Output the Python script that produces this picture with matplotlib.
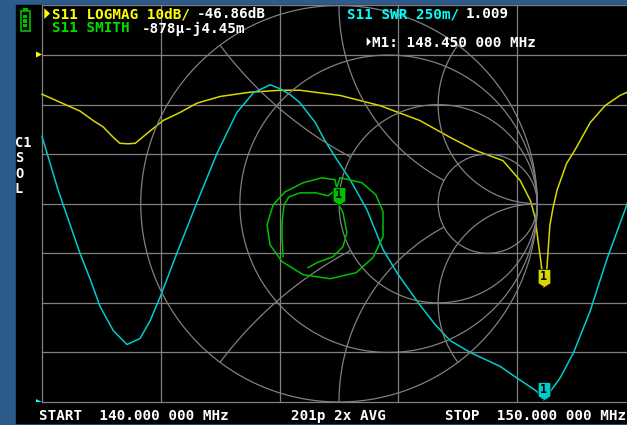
import numpy as np
import matplotlib.pyplot as plt
from matplotlib.path import Path
from matplotlib.patches import Polygon, Rectangle

W, H = 627, 425

# S11 LOGMAG trace (yellow), dB
logmag_freq = [140.00, 140.30, 140.64, 140.86, 141.03, 141.20, 141.31, 141.45, 141.57,
               141.77, 142.04, 142.32, 142.61, 143.00, 143.50, 144.01, 144.34, 145.02,
               145.69, 146.36, 146.87, 147.29, 147.76, 148.05, 148.22, 148.30, 148.35,
               148.40, 148.45, 148.50, 148.55, 148.60, 148.67, 148.83, 148.97, 149.23,
               149.48, 149.73, 150.00]
logmag_db = [-7.9, -9.5, -11.3, -13.2, -14.5, -16.6, -17.8, -17.9, -17.8,
             -15.8, -13.2, -11.6, -9.7, -8.35, -7.5, -7.1, -7.1, -8.15,
             -10.2, -13.2, -16.6, -19.2, -21.3, -25.3, -29.3, -32.7, -37.4,
             -41.8, -46.86, -43.0, -34.4, -31.0, -27.3, -21.9, -19.2, -13.6,
             -10.2, -8.15, -6.7]

# S11 SWR trace (cyan)
swr_freq = [140.00, 140.27, 140.64, 140.81, 140.98, 141.20, 141.43, 141.65, 141.82,
            141.99, 142.27, 142.60, 142.94, 143.28, 143.56, 143.84, 144.01, 144.18,
            144.34, 144.60, 144.76, 144.97, 145.19, 145.47, 145.74, 145.98, 146.36,
            146.62, 146.87, 147.21, 147.71, 148.05, 148.30, 148.40, 148.45, 148.55,
            148.72, 148.95, 149.23, 149.51, 149.84, 150.00]
swr_val = [2.34, 2.07, 1.75, 1.62, 1.48, 1.36, 1.29, 1.32, 1.41,
           1.53, 1.75, 2.00, 2.25, 2.46, 2.56, 2.60, 2.58, 2.55,
           2.51, 2.41, 2.32, 2.22, 2.12, 1.97, 1.77, 1.65, 1.49,
           1.39, 1.31, 1.25, 1.18, 1.11, 1.06, 1.035, 1.009, 1.05,
           1.12, 1.25, 1.46, 1.72, 1.99, 2.12]

# S11 SMITH trace (green), reflection coefficient
smith_re = [-0.282, -0.287, -0.287, -0.277, -0.252, -0.196, -0.116, -0.055, -0.015,
            0.005, 0.116, 0.186, 0.222, 0.222, 0.171, 0.086, -0.045, -0.181,
            -0.287, -0.348, -0.363, -0.332, -0.272, -0.181, -0.086, -0.020, -0.005,
            -0.0009, 0.020, 0.040, 0.020, -0.030, -0.111, -0.156]
smith_im = [-0.267, -0.181, -0.091, -0.005, 0.035, 0.055, 0.055, 0.040, 0.071,
            0.131, 0.106, 0.045, -0.040, -0.166, -0.272, -0.348, -0.378, -0.358,
            -0.292, -0.207, -0.106, -0.005, 0.060, 0.106, 0.131, 0.121, 0.045,
            -0.0045, -0.045, -0.146, -0.217, -0.267, -0.297, -0.322]

marker_freq = 148.45
marker_db = -46.86
marker_swr = 1.009
marker_gamma = (-0.000878, -0.00445)

YEL_T, YEL = '#ffff00', '#d8d800'
CYA_T, CYA = '#00ffff', '#00cccc'
GRN_T, GRN = '#00e000', '#00c000'
GRID = '#808080'


def fx(x):
    return x / W


def fy(y):
    return 1 - y / H


fig = plt.figure(figsize=(W / 100, H / 100), dpi=100)
fig.patch.set_facecolor('#2d5b8c')
fig.add_artist(Rectangle((fx(16), fy(423)), fx(627) - fx(16), fy(5) - fy(423),
                         transform=fig.transFigure, color='black', zorder=-5))

# grid area: 140-150 MHz over 5 divisions, 8 vertical divisions
gl, gr, gt, gb = 42, 636, 5.5, 402
rect = [fx(gl), fy(gb), (gr - gl) / W, (gb - gt) / H]

ax = fig.add_axes(rect)
ax.set_facecolor('none')
ax.set_xlim(140, 150)
ax.set_ylim(-70, 10)
ax.axis('off')
for v in np.arange(140, 151, 2):
    ax.axvline(v, color=GRID, lw=0.9, clip_on=False, zorder=1)
for v in np.arange(-70, 11, 10):
    ax.axhline(v, color=GRID, lw=0.9, clip_on=False, zorder=1)

ax_swr = fig.add_axes(rect)
ax_swr.set_xlim(140, 150)
ax_swr.set_ylim(1, 3)
ax_swr.axis('off')

ax_sm = fig.add_axes(rect)
R = (gb - gt) / 2
ax_sm.set_xlim(-(gr - gl) / 2 / R, (gr - gl) / 2 / R)
ax_sm.set_ylim(-1, 1)
ax_sm.axis('off')

# smith chart grid, NanoVNA style
t = np.linspace(0, 2 * np.pi, 3000)


def inside(x, y, cx, cy, r):
    return (x - cx) ** 2 + (y - cy) ** 2 < r ** 2


def arc(cx, cy, r, hide=None):
    x = cx + r * np.cos(t)
    y = cy + r * np.sin(t)
    keep = x ** 2 + y ** 2 <= 1.0001
    if hide is not None:
        keep &= ~inside(x, y, *hide)
    x = np.where(keep, x, np.nan)
    y = np.where(keep, y, np.nan)
    ax_sm.plot(x, y, color=GRID, lw=0.9, zorder=2)


arc(0, 0, 1)
arc(0.75, 0, 0.25)
arc(0.5, 0, 0.5)
arc(0.25, 0, 0.75)
for s in (1, -1):
    arc(1, s * 0.5, 0.5)
    arc(1, s * 1, 1, hide=(0.75, 0, 0.25))
    arc(1, s * 2, 2, hide=(0.5, 0, 0.5))

# traces
ax.plot(logmag_freq, logmag_db, color=YEL, lw=1.1, zorder=5, clip_on=False)
ax_swr.plot(swr_freq, swr_val, color=CYA, lw=1.1, zorder=5, clip_on=False)
ax_sm.plot(smith_re, smith_im, color=GRN, lw=1.1, zorder=5)

# marker shape: box with a pointed tip at the data point
mk = Path([(0, 0), (-6.3, 4), (-6.3, 18), (6.3, 18), (6.3, 4), (0, 0)],
          [Path.MOVETO] + [Path.LINETO] * 4 + [Path.CLOSEPOLY])


def marker(a, x, y, c):
    a.plot([x], [y], marker=mk, ms=25.9, color=c, mec='black', mew=0.5,
           zorder=8, clip_on=False)
    a.annotate('1', (x, y), xytext=(0, 10.5), textcoords='offset pixels',
               ha='center', va='center', fontsize=8.5, fontweight='bold',
               family='DejaVu Sans Mono', color='black', zorder=9)


marker(ax, marker_freq, marker_db, YEL)
marker(ax_swr, marker_freq, marker_swr, CYA)
marker(ax_sm, marker_gamma[0], marker_gamma[1], GRN)


def label(x, y, s, color, size=10.3, **kw):
    fig.text(fx(x), fy(y), s, color=color, fontsize=size, family='DejaVu Sans Mono',
             fontweight='bold', ha='left', **kw)


label(52, 18.5, 'S11 LOGMAG 10dB/', YEL_T, va='baseline')
label(197, 18.5, '-46.86dB', 'white', va='baseline')
label(52, 32.5, 'S11 SMITH', GRN_T, va='baseline')
label(142, 32.5, '-878µ-j4.45m', 'white', va='baseline')
label(347, 18.5, 'S11 SWR 250m/', CYA_T, va='baseline')
label(466, 18.5, '1.009', 'white', va='baseline')
label(372, 47, 'M1: 148.450 000 MHz', 'white', va='baseline')
label(39, 420, 'START  140.000 000 MHz', 'white', va='baseline')
label(291, 420, '201p 2x AVG', 'white', va='baseline')
label(445, 420, 'STOP  150.000 000 MHz', 'white', va='baseline')
label(15, 136, 'C1\nS\nO\nL', 'white', size=9.8, va='top', linespacing=1.12)


def tri(pts, c):
    fig.add_artist(Polygon([(fx(x), fy(y)) for x, y in pts], closed=True,
                           transform=fig.transFigure, color=c, lw=0))


tri([(44.3, 8.3), (50, 13.5), (44.3, 19)], YEL_T)
tri([(366.7, 37.5), (371, 41.8), (366.7, 46)], 'white')
tri([(36, 51.5), (42, 54.5), (36, 57.5)], YEL_T)
tri([(36, 399), (42, 402), (36, 402)], CYA_T)

# battery icon
fig.add_artist(Rectangle((fx(20.5), fy(30.5)), 9 / W, 19.5 / H, transform=fig.transFigure,
                         fill=False, ec=GRN, lw=1.2))
fig.add_artist(Rectangle((fx(23), fy(11)), 4.5 / W, 2.7 / H, transform=fig.transFigure,
                         color=GRN, lw=0))
for yb in (18.3, 22.7, 27.3):
    fig.add_artist(Rectangle((fx(22.8), fy(yb)), 4.6 / W, 3.3 / H,
                             transform=fig.transFigure, color=GRN, lw=0))

fig.savefig('out.png', dpi=100, facecolor=fig.get_facecolor())
